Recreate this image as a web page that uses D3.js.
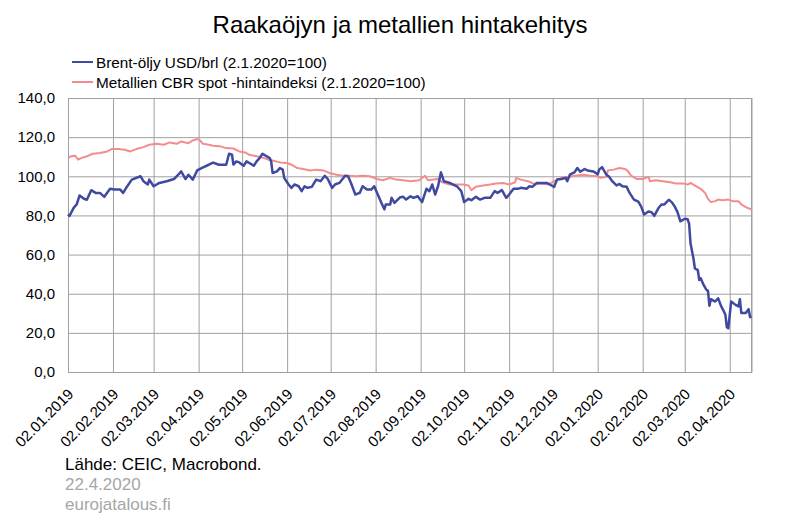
<!DOCTYPE html>
<html><head><meta charset="utf-8">
<script src="https://cdn.jsdelivr.net/npm/d3@7"></script>
<style>
body{margin:0;background:#fff}
svg{display:block}
text{font-family:"Liberation Sans",Arial,Helvetica,sans-serif}
</style>
</head><body>
<svg id="chart" width="800" height="523"></svg>
<script>
const chartTitle = "Raakaöjyn ja metallien hintakehitys";
const seriesNames = ["Brent-öljy USD/brl (2.1.2020=100)", "Metallien CBR spot -hintaindeksi (2.1.2020=100)"];
const seriesColors = ["#4049a0", "#f48c8e"];
const footerLines = ["Lähde: CEIC, Macrobond.", "22.4.2020", "eurojatalous.fi"];
const yTicks = [0, 20, 40, 60, 80, 100, 120, 140];
const xTickDates = ["2019-01-02","2019-02-02","2019-03-02","2019-04-02","2019-05-02","2019-06-02","2019-07-02","2019-08-02","2019-09-02","2019-10-02","2019-11-02","2019-12-02","2020-01-02","2020-02-02","2020-03-02","2020-04-02"];
const xDomain = ["2019-01-02", "2020-04-17"];

const brentDates = ["2019-01-02","2019-01-03","2019-01-06","2019-01-08","2019-01-10","2019-01-13","2019-01-15","2019-01-18","2019-01-21","2019-01-24","2019-01-27","2019-01-31","2019-02-03","2019-02-07","2019-02-09","2019-02-11","2019-02-15","2019-02-21","2019-02-23","2019-02-26","2019-02-27","2019-03-02","2019-03-06","2019-03-11","2019-03-16","2019-03-19","2019-03-21","2019-03-24","2019-03-26","2019-03-29","2019-04-01","2019-04-04","2019-04-09","2019-04-12","2019-04-16","2019-04-21","2019-04-23","2019-04-25","2019-04-26","2019-04-28","2019-04-30","2019-05-03","2019-05-05","2019-05-07","2019-05-10","2019-05-12","2019-05-14","2019-05-16","2019-05-19","2019-05-21","2019-05-22","2019-05-23","2019-05-26","2019-05-28","2019-05-30","2019-05-31","2019-06-03","2019-06-05","2019-06-07","2019-06-10","2019-06-12","2019-06-14","2019-06-16","2019-06-19","2019-06-22","2019-06-25","2019-06-28","2019-06-30","2019-07-03","2019-07-05","2019-07-08","2019-07-12","2019-07-14","2019-07-16","2019-07-19","2019-07-22","2019-07-24","2019-07-27","2019-07-30","2019-08-01","2019-08-04","2019-08-06","2019-08-08","2019-08-09","2019-08-12","2019-08-13","2019-08-15","2019-08-19","2019-08-21","2019-08-23","2019-08-26","2019-08-28","2019-08-31","2019-09-03","2019-09-06","2019-09-08","2019-09-10","2019-09-12","2019-09-14","2019-09-16","2019-09-18","2019-09-21","2019-09-23","2019-09-27","2019-09-30","2019-10-02","2019-10-05","2019-10-07","2019-10-10","2019-10-13","2019-10-16","2019-10-20","2019-10-23","2019-10-25","2019-10-28","2019-10-31","2019-11-02","2019-11-05","2019-11-08","2019-11-10","2019-11-14","2019-11-16","2019-11-18","2019-11-21","2019-11-24","2019-11-28","2019-11-30","2019-12-03","2019-12-05","2019-12-08","2019-12-11","2019-12-12","2019-12-14","2019-12-17","2019-12-19","2019-12-21","2019-12-24","2019-12-26","2019-12-30","2020-01-02","2020-01-03","2020-01-05","2020-01-08","2020-01-10","2020-01-12","2020-01-15","2020-01-17","2020-01-19","2020-01-22","2020-01-24","2020-01-27","2020-01-30","2020-02-01","2020-02-03","2020-02-06","2020-02-08","2020-02-10","2020-02-13","2020-02-15","2020-02-17","2020-02-20","2020-02-22","2020-02-24","2020-02-26","2020-02-28","2020-03-02","2020-03-04","2020-03-05","2020-03-06","2020-03-08","2020-03-09","2020-03-11","2020-03-12","2020-03-13","2020-03-15","2020-03-17","2020-03-18","2020-03-19","2020-03-20","2020-03-23","2020-03-25","2020-03-27","2020-03-29","2020-03-30","2020-03-31","2020-04-01","2020-04-03","2020-04-06","2020-04-08","2020-04-09","2020-04-10","2020-04-13","2020-04-15","2020-04-16","2020-04-17"];
const brentValues = [80.5,79.7,84,85.6,90.2,88.5,88,92.9,91.5,91.5,89.5,93.6,93.2,93.2,91.5,94,98.3,100,97.5,95.8,98.3,94.9,96.6,97.5,98.6,100.8,102.5,98.6,100.8,98.3,103,104.2,105.9,107,105.9,105.9,111.5,111,106,107.6,107.1,105.4,107.6,106.8,105.4,107.6,109.3,111.5,110.2,109.3,107.6,101.7,102.5,104.2,103.4,99.2,95.8,94.1,95.8,94.9,92.4,94.9,94.1,94.6,98.3,97.5,100.3,98.6,94.1,95.8,96.6,100.3,100,96.6,90.7,91.5,94.9,93.2,93.2,94.9,89.8,86.4,83.1,85.6,85.6,89,86.4,89.3,89.5,88.1,89.8,89,89.8,86.8,93.6,92.4,95.8,90.7,94.9,102,97.5,96.9,96.3,94.9,92.4,86.8,88.5,87.8,89.5,88.1,89,89,92.4,91.5,92.9,89,90.7,93.6,93.6,94.1,93.6,94.9,94.6,96.6,96.6,96.6,95.8,94.6,98.3,98.6,99.2,97.5,101,102,104.2,102.3,103.7,103,102.5,101,103.4,104.7,100.8,99.7,97.5,95.3,96.1,94.9,94.6,91.5,88.1,87,84.5,80.5,82,81.7,79.8,83.9,85.6,85.6,88,86.8,84.7,81.7,77,78.3,78,75.8,65.6,58,52.9,52.1,47,47.9,44.5,41.9,41.6,33.8,37.2,36,37.7,33.8,30.9,29.2,23,22.3,36,34.3,33.5,37.2,30.1,30.1,32.1,28.1,28];

const metalDates = ["2019-01-02","2019-01-04","2019-01-07","2019-01-09","2019-01-11","2019-01-15","2019-01-19","2019-01-24","2019-01-29","2019-02-01","2019-02-06","2019-02-10","2019-02-14","2019-02-18","2019-02-23","2019-02-27","2019-03-04","2019-03-09","2019-03-13","2019-03-18","2019-03-21","2019-03-26","2019-03-29","2019-04-01","2019-04-03","2019-04-05","2019-04-09","2019-04-12","2019-04-17","2019-04-21","2019-04-26","2019-04-30","2019-05-04","2019-05-07","2019-05-12","2019-05-17","2019-05-20","2019-05-23","2019-05-28","2019-06-02","2019-06-05","2019-06-09","2019-06-13","2019-06-18","2019-06-22","2019-06-27","2019-07-01","2019-07-06","2019-07-11","2019-07-15","2019-07-20","2019-07-24","2019-07-29","2019-08-03","2019-08-07","2019-08-12","2019-08-16","2019-08-21","2019-08-26","2019-09-01","2019-09-05","2019-09-07","2019-09-11","2019-09-14","2019-09-17","2019-09-22","2019-09-27","2019-10-01","2019-10-05","2019-10-07","2019-10-10","2019-10-15","2019-10-20","2019-10-24","2019-10-29","2019-11-02","2019-11-06","2019-11-07","2019-11-10","2019-11-15","2019-11-20","2019-11-24","2019-11-29","2019-12-03","2019-12-08","2019-12-13","2019-12-17","2019-12-23","2019-12-28","2020-01-02","2020-01-04","2020-01-08","2020-01-09","2020-01-13","2020-01-17","2020-01-21","2020-01-23","2020-01-25","2020-01-29","2020-02-02","2020-02-06","2020-02-07","2020-02-11","2020-02-16","2020-02-21","2020-02-25","2020-03-01","2020-03-04","2020-03-06","2020-03-10","2020-03-13","2020-03-16","2020-03-18","2020-03-20","2020-03-23","2020-03-25","2020-03-28","2020-04-01","2020-04-04","2020-04-08","2020-04-10","2020-04-14","2020-04-17"];
const metalValues = [109.3,110.2,110.5,108.5,109.3,110.2,111.5,111.9,112.7,113.9,113.9,113.6,112.7,113.9,114.9,116.1,116.6,116.1,117.3,116.6,117.8,116.9,118.3,119,118.3,116.6,116.1,115.6,115.3,114.4,114.2,112.7,112.2,111,110.2,109.3,108.5,108.1,107.1,106.8,105.9,104.2,103.7,103,103.4,103,101.7,100.8,100.3,100.3,100,100.3,100,98.6,98,99.2,98.3,98,97.5,98,100.3,98,98.3,98.6,96.9,95.8,95.8,95.8,95.3,92.9,94.6,95.3,95.8,96.3,96.6,95.8,96.9,99.2,98.3,97.5,95.8,96.3,95.8,97.5,99.2,99.7,100.3,100.8,100.3,100,99.2,99.7,103,103.4,104.2,103.7,102.5,100.3,98.6,98.6,99.7,97.5,98,97.5,96.9,96.3,96.3,95.8,96.6,94.9,93.6,91.5,88.5,86.8,87.3,88.1,87.8,88.1,87.3,87.3,85.6,83.9,83.1];

const parse = d3.timeParse("%Y-%m-%d");
const brent = brentDates.map((d, i) => ({date: parse(d), value: brentValues[i]}));
const metal = metalDates.map((d, i) => ({date: parse(d), value: metalValues[i]}));

const W = 800, H = 523;
const plot = {left: 68, right: 751.5, top: 98, bottom: 372};

const svg = d3.select("#chart");
svg.append("rect").attr("width", W).attr("height", H).attr("fill", "#fff");

const x = d3.scaleTime().domain(xDomain.map(parse)).range([plot.left, plot.right]);
const y = d3.scaleLinear().domain([0, 140]).range([plot.bottom, plot.top]);

const fiLocale = d3.formatLocale({decimal: ",", thousands: " ", grouping: [3], currency: ["", " €"]});
const yFmt = fiLocale.format(".1f");
const xFmt = d3.timeFormat("%d.%m.%Y");
const gridColor = "#a0a0a0";

// Y axis with horizontal gridlines
const yAxis = svg.append("g")
  .attr("transform", `translate(${plot.left},0)`)
  .call(d3.axisLeft(y).tickValues(yTicks).tickFormat(yFmt)
    .tickSize(-(plot.right - plot.left)).tickPadding(13));
yAxis.select(".domain").attr("stroke", gridColor);
yAxis.selectAll(".tick line").attr("stroke", gridColor).attr("stroke-width", 1);
yAxis.selectAll(".tick text").attr("fill", "#000").style("font-size", "15px")
  .style("font-family", '"Liberation Sans", Arial, sans-serif');

// X axis with vertical gridlines
const xAxis = svg.append("g")
  .attr("transform", `translate(0,${plot.bottom})`)
  .call(d3.axisBottom(x).tickValues(xTickDates.map(parse)).tickFormat(xFmt)
    .tickSize(-(plot.bottom - plot.top)).tickPadding(0));
xAxis.select(".domain").attr("stroke", gridColor);
xAxis.selectAll(".tick line").attr("stroke", gridColor).attr("stroke-width", 1);
xAxis.selectAll(".tick text")
  .attr("fill", "#000")
  .attr("x", 0).attr("y", 0).attr("dy", 0)
  .attr("text-anchor", "end")
  .attr("transform", "translate(6,23) rotate(-45)")
  .style("font-size", "15px")
  .style("font-family", '"Liberation Sans", Arial, sans-serif');

// right border
svg.append("line")
  .attr("x1", x.range()[1]).attr("x2", x.range()[1])
  .attr("y1", y(140)).attr("y2", y(0))
  .attr("stroke", gridColor).attr("stroke-width", 1);

// Lines
const line = d3.line().x(d => x(d.date)).y(d => y(d.value));
svg.append("path").datum(metal).attr("d", line)
  .attr("fill", "none").attr("stroke", seriesColors[1]).attr("stroke-width", 2)
  .attr("stroke-linejoin", "round");
svg.append("path").datum(brent).attr("d", line)
  .attr("fill", "none").attr("stroke", seriesColors[0]).attr("stroke-width", 2.5)
  .attr("stroke-linejoin", "round");

// Title
svg.append("text").attr("x", 400).attr("y", 33).attr("text-anchor", "middle")
  .style("font-size", "24px").attr("fill", "#000").text(chartTitle);

// Legend
const legend = svg.append("g");
seriesNames.forEach((name, i) => {
  const ly = 62 + i * 20;
  legend.append("line").attr("x1", 72).attr("x2", 93).attr("y1", ly).attr("y2", ly)
    .attr("stroke", seriesColors[i]).attr("stroke-width", 2);
  legend.append("text").attr("x", 96).attr("y", ly + 5.5)
    .style("font-size", "15.3px").attr("fill", "#000").text(name);
});

// Footer
const footerColors = ["#000", "#a6a6a6", "#a6a6a6"];
const footerY = [470, 490, 509.5];
footerLines.forEach((t, i) => {
  svg.append("text").attr("x", 65).attr("y", footerY[i])
    .style("font-size", "17px").attr("fill", footerColors[i]).text(t);
});
</script>
</body></html>
